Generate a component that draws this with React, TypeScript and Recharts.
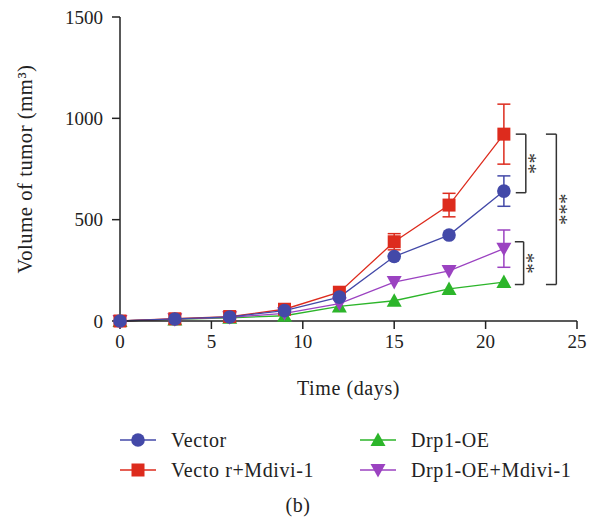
import React from "react";
import { LineChart, Line, XAxis, YAxis, ErrorBar, ReferenceLine, Legend } from "recharts";

// days of measurement
const days = [0, 3, 6, 9, 12, 15, 18, 21];

// tumour volume (mm3) per group
const vector = [0, 10, 20, 51, 118, 318, 424, 641];
const vectorMdivi = [0, 11, 22, 58, 142, 391, 572, 922];
const drp1 = [0, 8, 16, 26, 72, 100, 158, 192];
const drp1Mdivi = [0, 9, 18, 38, 86, 192, 247, 357];

// error bars (+/-), 0 = none drawn
const vectorErr = [0, 0, 0, 0, 0, 0, 0, 75];
const vectorMdiviErr = [0, 0, 0, 0, 0, 40, 58, 148];
const drp1Err = [0, 0, 0, 0, 0, 0, 0, 0];
const drp1MdiviErr = [0, 0, 0, 0, 0, 0, 0, 92];

const xTicks = [0, 5, 10, 15, 20, 25];
const yTicks = [0, 500, 1000, 1500];

const data = days.map((d, i) => ({
  day: d,
  vector: vector[i],
  vectorErr: vectorErr[i],
  vectorMdivi: vectorMdivi[i],
  vectorMdiviErr: vectorMdiviErr[i],
  drp1: drp1[i],
  drp1Err: drp1Err[i],
  drp1Mdivi: drp1Mdivi[i],
  drp1MdiviErr: drp1MdiviErr[i],
}));

type Shape = "circle" | "square" | "up" | "down";

// legend order (two columns, column-major)
const series: { key: string; name: string; color: string; shape: Shape }[] = [
  { key: "vector", name: "Vector", color: "#4349a8", shape: "circle" },
  { key: "vectorMdivi", name: "Vecto r+Mdivi-1", color: "#dd2b1d", shape: "square" },
  { key: "drp1", name: "Drp1-OE", color: "#2cb52a", shape: "up" },
  { key: "drp1Mdivi", name: "Drp1-OE+Mdivi-1", color: "#9b42c1", shape: "down" },
];

// significance brackets, in data units
const brackets = [
  { x1: 21.65, x2: 22.2, top: 922, bottom: 633, stars: "**" },
  { x1: 21.6, x2: 22.08, top: 391, bottom: 180, stars: "**" },
  { x1: 23.3, x2: 23.87, top: 922, bottom: 180, stars: "***" },
];

const FONT = '"Liberation Serif", "Times New Roman", serif';
const INK = "#222";

function Marker({ cx, cy, shape, color }: { cx: number; cy: number; shape: Shape; color: string }) {
  if (cx == null || cy == null) return null;
  if (shape === "circle") return <circle cx={cx} cy={cy} r={6.8} fill={color} />;
  if (shape === "square") return <rect x={cx - 6.5} y={cy - 6.5} width={13} height={13} fill={color} />;
  if (shape === "up")
    return <polygon points={`${cx},${cy - 7.5} ${cx - 7.5},${cy + 6} ${cx + 7.5},${cy + 6}`} fill={color} />;
  return <polygon points={`${cx},${cy + 7.5} ${cx - 7.5},${cy - 6} ${cx + 7.5},${cy - 6}`} fill={color} />;
}

function LegendIcon({ shape, color }: { shape: Shape; color: string }) {
  return (
    <svg width={36} height={20} style={{ display: "block" }}>
      <line x1={0} y1={10} x2={36} y2={10} stroke={color} strokeWidth={1.3} />
      <Marker cx={18} cy={10} shape={shape} color={color} />
    </svg>
  );
}

function LegendBox() {
  return (
    <div style={{ fontFamily: FONT, fontSize: 20, color: INK, letterSpacing: 0.6 }}>
      <div
        style={{
          display: "grid",
          gridTemplateColumns: "240px 240px",
          gridTemplateRows: "30px 30px",
          gridAutoFlow: "column",
          paddingLeft: 120,
        }}
      >
        {series.map((s) => (
          <div key={s.key} style={{ display: "flex", alignItems: "center" }}>
            <LegendIcon shape={s.shape} color={s.color} />
            <span style={{ marginLeft: 15, whiteSpace: "nowrap" }}>{s.name}</span>
          </div>
        ))}
      </div>
      <div style={{ textAlign: "center", marginTop: 8, lineHeight: "24px" }}>(b)</div>
    </div>
  );
}

const drawOrder = ["drp1", "drp1Mdivi", "vectorMdivi", "vector"];

export default function App() {
  return (
    <div style={{ position: "absolute", left: 0, top: 0, background: "#fff" }}>
      <LineChart width={596} height={525} data={data} margin={{ top: 17, right: 19, left: 0, bottom: 0 }}>
        <XAxis
          dataKey="day"
          type="number"
          domain={[0, 25]}
          ticks={xTicks}
          height={204}
          tickSize={8}
          tickMargin={6}
          axisLine={{ stroke: INK, strokeWidth: 1.5 }}
          tickLine={{ stroke: INK, strokeWidth: 1.5 }}
          tick={{ fill: INK, fontSize: 19, fontFamily: FONT }}
          label={{
            value: "Time (days)",
            position: "insideTop",
            offset: 60,
            fill: INK,
            fontSize: 20,
            fontFamily: FONT,
            style: { letterSpacing: 0.6 },
          }}
        />
        <YAxis
          type="number"
          domain={[0, 1500]}
          ticks={yTicks}
          width={120}
          tickSize={8}
          tickMargin={9}
          axisLine={{ stroke: INK, strokeWidth: 1.5 }}
          tickLine={{ stroke: INK, strokeWidth: 1.5 }}
          tick={{ fill: INK, fontSize: 19, fontFamily: FONT }}
          label={{
            value: "Volume of tumor (mm³)",
            angle: -90,
            position: "insideLeft",
            offset: 25,
            fill: INK,
            fontSize: 20.5,
            fontFamily: FONT,
            style: { textAnchor: "middle", letterSpacing: 0.6 },
          }}
        />
        {drawOrder.map((k) => {
          const s = series.find((x) => x.key === k)!;
          return (
            <Line
              key={s.key}
              dataKey={s.key}
              name={s.name}
              type="linear"
              stroke={s.color}
              strokeWidth={1.3}
              isAnimationActive={false}
              activeDot={false}
              dot={(p: any) => <Marker key={`${s.key}-${p.index}`} cx={p.cx} cy={p.cy} shape={s.shape} color={s.color} />}
            >
              <ErrorBar dataKey={`${s.key}Err`} direction="y" width={6.5} stroke={s.color} strokeWidth={1.5} />
            </Line>
          );
        })}
        {brackets.map((b, i) => (
          <React.Fragment key={i}>
            <ReferenceLine
              segment={[{ x: b.x1, y: b.top }, { x: b.x2, y: b.top }]}
              stroke="#333"
              strokeWidth={1.5}
              ifOverflow="visible"
            />
            <ReferenceLine
              segment={[{ x: b.x1, y: b.bottom }, { x: b.x2, y: b.bottom }]}
              stroke="#333"
              strokeWidth={1.5}
              ifOverflow="visible"
            />
            <ReferenceLine
              segment={[{ x: b.x2, y: b.top }, { x: b.x2, y: b.bottom }]}
              stroke="#333"
              strokeWidth={1.5}
              ifOverflow="visible"
              label={(props: any) => {
                const vb = props.viewBox || {};
                const x = (vb.x ?? 0) + 3.5;
                const y = (vb.y ?? 0) + (vb.height ?? 0) / 2;
                return (
                  <text
                    x={x}
                    y={y}
                    transform={`rotate(90 ${x} ${y})`}
                    textAnchor="middle"
                    dominantBaseline="central"
                    fill="#333"
                    fontSize={21}
                    fontFamily={FONT}
                  >
                    {b.stars}
                  </text>
                );
              }}
            />
          </React.Fragment>
        ))}
        <Legend
          verticalAlign="middle"
          align="center"
          layout="horizontal"
          content={() => <LegendBox />}
          wrapperStyle={{ top: 425, left: 0, width: 596, height: 100 }}
        />
      </LineChart>
    </div>
  );
}
